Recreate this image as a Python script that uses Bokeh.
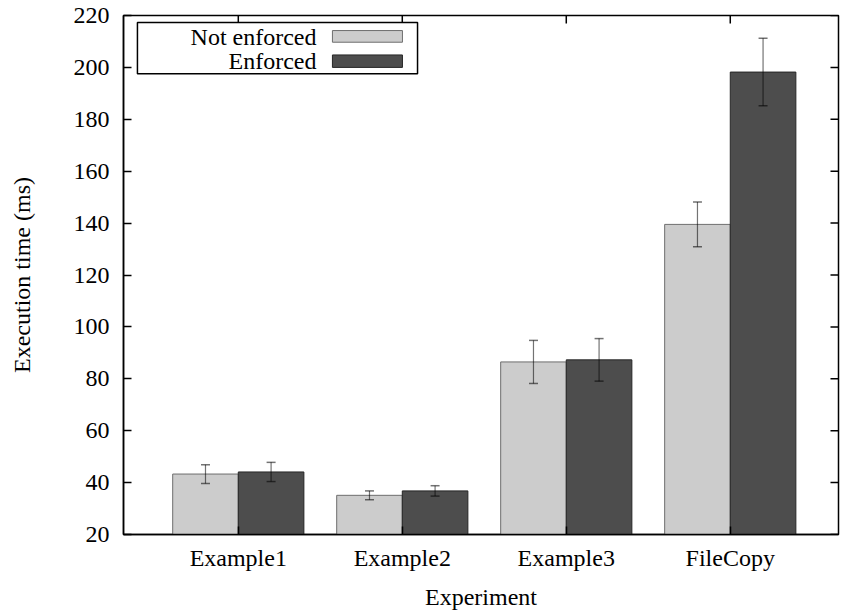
from bokeh.plotting import figure
from bokeh.models import (Range1d, FixedTicker, ColumnDataSource, Whisker, TeeHead,
                          BoxAnnotation, Label)
from bokeh.embed import file_html
from bokeh.resources import INLINE

# ---- data ----
categories = ["Example1", "Example2", "Example3", "FileCopy"]
not_enforced = [43.3, 35.1, 86.5, 139.5]
not_enforced_err = [3.6, 1.7, 8.3, 8.6]
enforced = [44.1, 36.8, 87.3, 198.2]
enforced_err = [3.7, 2.0, 8.2, 13.0]
y_ticks = [20, 40, 60, 80, 100, 120, 140, 160, 180, 200, 220]
series_names = ["Not enforced", "Enforced"]

FONT = "Liberation Serif"
FS = "24px"
LIGHT = "#cccccc"
DARK = "#4d4d4d"

xs = list(range(1, len(categories) + 1))
bw = 0.4

p = figure(frame_width=715, frame_height=519, output_backend="svg", toolbar_location=None,
           x_range=Range1d(0.3, 4.66), y_range=Range1d(20, 220),
           min_border_left=123, min_border_right=2, min_border_top=15, min_border_bottom=10)
p.grid.visible = False
p.background_fill_color = "white"
p.outline_line_color = "black"
p.outline_line_width = 1.5

src = ColumnDataSource(dict(
    x=xs,
    xl=[x - bw / 2 for x in xs],
    xr=[x + bw / 2 for x in xs],
    ne=not_enforced, e=enforced,
    ne_lo=[v - d for v, d in zip(not_enforced, not_enforced_err)],
    ne_hi=[v + d for v, d in zip(not_enforced, not_enforced_err)],
    e_lo=[v - d for v, d in zip(enforced, enforced_err)],
    e_hi=[v + d for v, d in zip(enforced, enforced_err)],
))

p.vbar(x="xl", width=bw, bottom=20, top="ne", source=src,
       fill_color=LIGHT, line_color="#6e6e6e", line_width=1)
p.vbar(x="xr", width=bw, bottom=20, top="e", source=src,
       fill_color=DARK, line_color="#262626", line_width=1)

for base, lo, hi in (("xl", "ne_lo", "ne_hi"), ("xr", "e_lo", "e_hi")):
    w = Whisker(base=base, lower=lo, upper=hi, source=src, dimension="height",
                level="annotation",
                line_color="black", line_alpha=0.55, line_width=1.2,
                upper_head=TeeHead(size=9, line_color="black", line_alpha=0.55, line_width=1.5),
                lower_head=TeeHead(size=9, line_color="black", line_alpha=0.55, line_width=1.5))
    p.add_layout(w)

# axes
yax = p.yaxis[0]
yax.ticker = FixedTicker(ticks=y_ticks)
yax.axis_label = "Execution time (ms)"

xax = p.xaxis[0]
xax.ticker = FixedTicker(ticks=xs)
xax.major_label_overrides = {x: c for x, c in zip(xs, categories)}
xax.axis_label = "Experiment"

for ax in (xax, yax):
    ax.minor_tick_line_color = None
    ax.major_tick_in = 8
    ax.major_tick_out = 0
    ax.major_tick_line_width = 1.5
    ax.axis_line_width = 1.5
    ax.major_label_text_font = FONT
    ax.major_label_text_font_size = FS
    ax.major_label_text_color = "black"
    ax.axis_label_text_font = FONT
    ax.axis_label_text_font_size = FS
    ax.axis_label_text_font_style = "normal"
    ax.axis_label_text_color = "black"
    ax.axis_line_color = "black"
    ax.major_tick_line_color = "black"

yax.major_label_standoff = 14
yax.axis_label_standoff = 36
xax.major_label_standoff = 10
xax.axis_label_standoff = 10

# mirrored inward ticks on top and right edges
xr_ = p.x_range.end
yt_ = p.y_range.end
tick_dx = 8 / 164.0
tick_dy = 8 / 2.59
p.segment(x0=[xr_] * len(y_ticks), x1=[xr_ - tick_dx] * len(y_ticks),
          y0=y_ticks, y1=y_ticks, line_color="black", line_width=1.5)
p.segment(x0=xs, x1=xs, y0=[yt_] * len(xs), y1=[yt_ - tick_dy] * len(xs),
          line_color="black", line_width=1.5)

# legend (label on the left, sample box on the right)
p.add_layout(BoxAnnotation(left=0.385, right=2.093, bottom=197.6, top=217.3,
                           fill_color="white", fill_alpha=1.0,
                           line_color="black", line_alpha=1.0, line_width=1.5))
p.add_layout(BoxAnnotation(left=1.574, right=2.001, bottom=209.7, top=214.2,
                           fill_color=LIGHT, fill_alpha=1.0, line_color="#6e6e6e",
                           line_alpha=1.0, line_width=1))
p.add_layout(BoxAnnotation(left=1.574, right=2.001, bottom=200.0, top=204.8,
                           fill_color=DARK, fill_alpha=1.0, line_color="#262626",
                           line_alpha=1.0, line_width=1))
for name, yy in zip(series_names, (211.9, 202.3)):
    p.add_layout(Label(x=1.477, y=yy, text=name, text_align="right", text_baseline="middle",
                       text_font=FONT, text_font_size=FS, text_color="black"))

open("out.html", "w").write(file_html(p, INLINE))
